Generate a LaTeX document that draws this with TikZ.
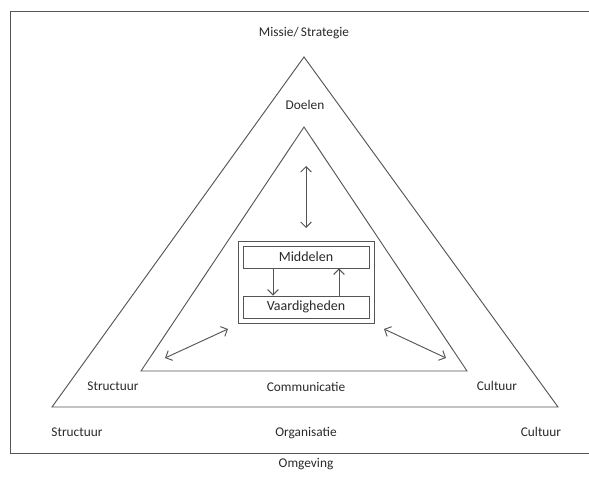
\documentclass[tikz,border=0pt]{standalone}
\usepackage{fontspec}
\setmainfont{Carlito}
\usetikzlibrary{arrows.meta}
\definecolor{linegray}{HTML}{555555}
\definecolor{textgray}{HTML}{2a2a2a}
\tikzset{
    line/.style={draw=linegray, line width=0.7pt},
    dblarrow/.style={line, {Straight Barb[length=4pt,width=8pt]}-{Straight Barb[length=4pt,width=8pt]}},
    onearrow/.style={line, -{Straight Barb[length=4pt,width=8pt]}},
    label/.style={text=textgray, font=\fontsize{10}{12}\selectfont, inner sep=0pt},
    box/.style={line, minimum width=94.5pt, minimum height=16.5pt, inner sep=0pt, text=textgray, font=\fontsize{10.5}{12}\selectfont}
}
\begin{document}
\begin{tikzpicture}[x=0.75pt, y=-0.75pt]
    \clip (0,0) rectangle (589,484);
    \fill[white] (0,0) rectangle (589,484);

    % frame, open to the right
    \draw[line] (10,11) rectangle (620,453);

    % triangles
    \draw[line] (304,57) -- (558,407) -- (52,407) -- cycle;
    \draw[line] (304,127) -- (467,371) -- (141,371) -- cycle;

    % core
    \draw[line] (238,241) rectangle (374,323);
    \node[box] (mid) at (306,257) {Middelen};
    \node[box] (vaar) at (306,307) {Vaardigheden};
    \draw[onearrow] (mid.south -| 273,0) -- (vaar.north -| 273,0);
    \draw[onearrow] (vaar.north -| 339,0) -- (mid.south -| 339,0);

    % double arrows
    \coordinate (t1) at (306,166);
    \coordinate (t2) at (306,228);
    \coordinate (l1) at (165,358);
    \coordinate (l2) at (228,329);
    \coordinate (r1) at (384,329);
    \coordinate (r2) at (446,358);
    \draw[dblarrow] (t1) -- (t2);
    \draw[dblarrow] (l1) -- (l2);
    \draw[dblarrow] (r1) -- (r2);

    % labels
    \node[label] (missie) at (304,33) {Missie/\,Strategie};
    \node[label] (doelen) at (305,105) {Doelen};
    \node[label] (struc1) at (113,386) {Structuur};
    \node[label] (comm) at (306,387) {Communicatie};
    \node[label] (cult1) at (497,386) {Cultuur};
    \node[label] (struc2) at (77,432) {Structuur};
    \node[label] (org) at (306,433) {Organisatie};
    \node[label] (cult2) at (541,432) {Cultuur};
    \node[label] (omg) at (306,464) {Omgeving};
\end{tikzpicture}
\end{document}
